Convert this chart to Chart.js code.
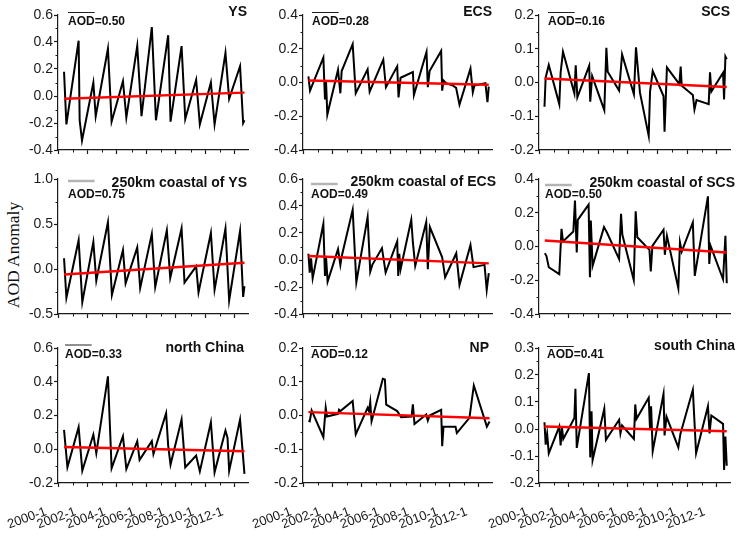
<!DOCTYPE html>
<html><head><meta charset="utf-8">
<script src="https://cdn.jsdelivr.net/npm/chart.js@4"></script>
<style>
html,body{margin:0;padding:0;background:#fff;}
#wrap{position:relative;width:740px;height:543px;overflow:hidden;background:#fff;}
#wrap canvas{position:absolute;}
#ytitle{position:absolute;left:13px;top:255px;font-family:'Liberation Serif','Times New Roman',serif;font-size:17.5px;color:#111;white-space:nowrap;transform:translate(-50%,-50%) rotate(-90deg);}
</style></head>
<body><div id="wrap"><div id="ytitle">AOD Anomaly</div></div>
<script>
// ---------- data ----------
const panelNames = ['YS','ECS','SCS','250km coastal of YS','250km coastal of ECS','250km coastal of SCS','north China','NP','south China'];
const aodMeans = [0.50,0.28,0.16,0.75,0.49,0.50,0.33,0.12,0.41];
// y-axis ticks: [min, max, step]
const yTicks = [[-0.4,0.6,0.2],[-0.4,0.4,0.2],[-0.2,0.2,0.1],[-0.5,1.0,0.5],[-0.4,0.6,0.2],[-0.4,0.4,0.2],[-0.2,0.6,0.2],[-0.2,0.2,0.1],[-0.2,0.3,0.1]];
const xTickYears = [2000,2002,2004,2006,2008,2010,2012];
const xTickLabels = ['2000-1','2002-1','2004-1','2006-1','2008-1','2010-1','2012-1'];

const ysDates = [2000.41,2000.57,2001.40,2001.47,2001.63,2002.40,2002.56,2003.39,2003.64,2004.41,2004.64,2005.38,2005.67,2006.37,2006.65,2007.48,2007.64,2008.39,2008.64,2009.38,2009.63,2010.38,2010.63,2011.37,2011.62,2012.36,2012.57,2012.66];
const ysValues = [0.18,-0.21,0.41,-0.18,-0.33,0.10,-0.15,0.35,-0.19,0.11,-0.16,0.37,-0.15,0.51,-0.18,0.45,-0.19,0.37,-0.17,0.12,-0.21,0.10,-0.21,0.32,-0.02,0.22,-0.20,-0.18];
const ysTrend = [-0.02,0.025];

const ecsDates = [2000.37,2000.48,2000.59,2001.39,2001.50,2001.57,2001.66,2002.39,2002.55,2002.64,2003.39,2003.60,2004.41,2004.55,2005.48,2005.66,2006.43,2006.52,2006.66,2007.50,2007.57,2008.43,2008.52,2008.64,2009.43,2009.50,2009.59,2009.77,2010.23,2010.45,2010.68,2011.43,2011.59,2011.70,2012.45,2012.59,2012.68];
const ecsValues = [0.036,-0.048,-0.024,0.147,-0.10,0.012,-0.19,0.076,-0.064,0.068,0.227,-0.064,0.078,-0.054,0.135,-0.028,0.096,-0.088,0.028,0.062,-0.074,0.181,-0.028,0.068,0.187,-0.048,0.012,-0.004,-0.018,-0.032,-0.131,0.082,-0.058,-0.018,-0.004,-0.117,-0.024];
const ecsTrend = [0.012,-0.014];

const scsDates = [2000.37,2000.45,2000.66,2001.37,2001.46,2001.62,2002.39,2002.48,2002.59,2003.39,2003.46,2003.59,2004.41,2004.55,2004.64,2005.41,2005.61,2006.41,2006.55,2006.82,2007.41,2007.50,2007.68,2008.41,2008.48,2008.64,2009.48,2009.57,2009.64,2010.39,2010.50,2010.64,2011.46,2011.55,2011.64,2012.43,2012.50,2012.59,2012.68];
const scsValues = [-0.072,0.015,0.052,-0.064,0.029,0.091,-0.032,0.051,-0.044,0.05,-0.057,0.019,-0.082,0.103,0.032,-0.024,0.083,-0.035,0.104,-0.030,-0.158,-0.027,0.034,-0.040,-0.146,0.045,-0.005,0.047,-0.010,-0.037,-0.080,-0.052,-0.064,0.030,-0.027,0.029,-0.050,0.077,0.069];
const scsTrend = [0.012,-0.013];

const cysDates = [2000.41,2000.57,2001.40,2001.65,2002.40,2002.60,2003.39,2003.66,2004.41,2004.59,2005.38,2005.58,2006.37,2006.60,2007.39,2007.62,2008.39,2008.59,2009.38,2009.54,2010.38,2010.63,2011.37,2011.62,2012.36,2012.57,2012.66];
const cysValues = [0.12,-0.32,0.32,-0.37,0.30,-0.13,0.52,-0.29,0.21,-0.16,0.24,-0.21,0.39,-0.20,0.43,-0.10,0.45,-0.15,0.03,-0.26,0.40,-0.23,0.45,-0.35,0.42,-0.31,-0.19];
const cysTrend = [-0.06,0.07];

const cecsDates = [2000.37,2000.46,2000.55,2000.66,2001.39,2001.50,2001.57,2001.68,2002.39,2002.55,2002.64,2003.39,2003.64,2004.41,2004.59,2004.73,2005.39,2005.64,2006.43,2006.50,2006.57,2006.66,2007.39,2007.50,2007.66,2008.41,2008.52,2008.66,2009.50,2009.70,2010.46,2010.68,2011.43,2011.64,2012.39,2012.54,2012.68];
const cecsValues = [0.046,-0.093,0.013,-0.135,0.268,-0.118,0.026,-0.16,0.08,-0.036,0.026,0.372,-0.165,0.318,-0.086,-0.036,0.088,-0.093,0.137,-0.118,0.046,-0.068,0.298,0.130,-0.044,0.281,-0.068,0.244,0.02,-0.128,0.05,-0.185,0.112,-0.053,-0.036,-0.222,-0.098];
const cecsTrend = [0.03,-0.025];

const cscsDates = [2000.39,2000.50,2000.66,2001.37,2001.52,2001.62,2002.32,2002.43,2002.55,2002.62,2003.35,2003.44,2003.50,2003.62,2004.39,2004.59,2005.41,2005.54,2005.63,2006.40,2006.53,2006.64,2007.46,2007.55,2007.66,2008.41,2008.50,2008.64,2009.41,2009.52,2009.64,2010.39,2010.52,2011.41,2011.50,2011.59,2012.43,2012.59,2012.68];
const cscsValues = [-0.04,-0.055,-0.123,-0.164,0.105,0.03,0.089,0.273,-0.036,0.158,0.248,-0.182,0.154,-0.115,0.115,0.083,-0.075,0.194,0.069,-0.198,0.208,0.055,-0.02,-0.148,0.004,0.099,-0.049,0.063,-0.247,0.024,-0.03,0.143,-0.174,0.297,-0.103,0.004,-0.194,0.063,-0.218];
const cscsTrend = [0.036,-0.035];

const ncDates = [2000.41,2000.64,2001.40,2001.65,2002.40,2002.60,2003.39,2003.64,2004.41,2004.64,2005.38,2005.54,2006.37,2006.48,2007.34,2007.48,2007.64,2008.39,2008.64,2009.38,2009.63,2010.38,2010.63,2011.37,2011.51,2011.62,2012.36,2012.66];
const ncValues = [0.115,-0.107,0.131,-0.127,0.087,-0.024,0.432,-0.113,0.077,-0.117,0.048,-0.063,0.048,-0.028,0.214,0.022,-0.091,0.176,-0.107,-0.038,-0.131,0.16,-0.137,0.111,0.067,-0.127,0.176,-0.146];
const ncTrend = [0.014,-0.012];

const npDates = [2000.37,2000.46,2000.59,2001.39,2001.55,2001.64,2002.39,2002.46,2002.55,2003.39,2003.60,2004.41,2004.50,2004.59,2004.68,2005.45,2005.59,2005.68,2006.43,2006.70,2007.41,2007.50,2007.61,2008.41,2008.52,2008.64,2009.43,2009.50,2009.59,2010.41,2010.50,2011.36,2011.66,2012.55,2012.73];
const npValues = [-0.015,-0.017,0.015,-0.064,0.023,-0.003,0.005,0.017,0.013,0.043,-0.056,0.023,0.013,0.040,-0.017,0.109,0.107,0.032,0.013,-0.005,-0.003,0.033,-0.025,0.003,-0.015,0.0,0.017,-0.091,-0.033,-0.033,-0.052,-0.007,0.089,-0.033,-0.018];
const npTrend = [0.010,-0.008];

const scDates = [2000.37,2000.45,2000.55,2000.66,2001.37,2001.46,2001.55,2001.64,2002.39,2002.46,2002.55,2003.37,2003.46,2003.55,2003.62,2004.41,2004.52,2005.41,2005.50,2005.61,2006.41,2006.50,2006.59,2007.41,2007.50,2007.57,2007.68,2008.41,2008.48,2008.61,2009.41,2009.55,2010.39,2010.61,2011.41,2011.52,2011.64,2012.43,2012.50,2012.59,2012.68];
const scValues = [0.025,-0.058,-0.018,-0.090,0.009,-0.061,0.004,-0.037,0.041,0.149,-0.07,0.207,-0.105,0.066,-0.115,0.075,-0.04,0.034,-0.016,0.013,-0.037,0.091,0.038,0.116,-0.003,0.084,-0.082,0.13,-0.024,0.046,-0.068,-0.018,0.145,-0.09,0.084,-0.016,0.05,0.019,-0.152,-0.028,-0.136];
const scTrend = [0.009,-0.008];

const seriesDates = [ysDates,ecsDates,scsDates,cysDates,cecsDates,cscsDates,ncDates,npDates,scDates];
const seriesValues = [ysValues,ecsValues,scsValues,cysValues,cecsValues,cscsValues,ncValues,npValues,scValues];
const seriesTrends = [ysTrend,ecsTrend,scsTrend,cysTrend,cecsTrend,cscsTrend,ncTrend,npTrend,scTrend];

// ---------- layout / style ----------
const COLS = [{cx:0,cw:252,L:58,R:248},{cx:252,cw:246,L:303,R:492},{cx:480,cw:260,L:539,R:730}];
const ROWS = [{cy:0,ch:165,T:15,B:150},{cy:165,ch:165,T:179,B:314},{cy:332,ch:211,T:348,B:483}];
const DECOR = {
  titleDx:[-1,0,0,-1,4,5,-4,-3,5],
  titleDy:[1,1,1,8,7,8,4,4,2],
  aodDx:[10,9,9,10,8,6,7,8,8],
  aodDy:[10,10,10,18.5,18.5,19,10,10,10],
  barDy:[-2.5,-2.5,-2.5,2,5,6,-3,-1.5,-1.5]
};
const SANS = '"Liberation Sans", Arial, sans-serif';
const INK = '#1a1a1a';
Chart.defaults.font.family = SANS;
Chart.defaults.font.size = 14;
Chart.defaults.color = INK;

const panelDecor = {
  id: 'panelDecor',
  afterDraw(chart, args, o) {
    const {ctx, chartArea: a} = chart;
    const xs = chart.scales.x, ys = chart.scales.y;
    ctx.save();
    ctx.strokeStyle = INK; ctx.lineWidth = 1;
    // minor y ticks
    const n = Math.round((o.yMax - o.yMin) / o.yStep);
    for (let k = 0; k < n; k++) {
      const py = Math.round(ys.getPixelForValue(o.yMin + (k + 0.5) * o.yStep)) + 0.5;
      ctx.beginPath(); ctx.moveTo(a.left, py); ctx.lineTo(a.left - 2.5, py); ctx.stroke();
    }
    // minor x ticks (odd years)
    for (let yr = 2001; yr < xs.max; yr += 2) {
      const px = Math.round(xs.getPixelForValue(yr)) + 0.5;
      ctx.beginPath(); ctx.moveTo(px, a.bottom); ctx.lineTo(px, a.bottom + 2.5); ctx.stroke();
    }
    // panel title
    ctx.fillStyle = '#111';
    ctx.font = 'bold 14px ' + SANS;
    ctx.textAlign = 'right'; ctx.textBaseline = 'alphabetic';
    ctx.fillText(o.title, a.right + o.titleDx, a.top + o.titleDy);
    // mean AOD
    ctx.font = 'bold 12px ' + SANS;
    ctx.textAlign = 'left';
    const tx = a.left + o.aodDx;
    ctx.fillText('AOD=' + o.mean.toFixed(2), tx, a.top + o.aodDy);
    const w = ctx.measureText('AOD').width;
    ctx.strokeStyle = o.barColor; ctx.lineWidth = o.barWidth;
    ctx.beginPath(); ctx.moveTo(tx, a.top + o.barDy); ctx.lineTo(tx + w, a.top + o.barDy); ctx.stroke();
    ctx.restore();
  }
};

const wrap = document.getElementById('wrap');
panelNames.forEach((name, i) => {
  const col = COLS[i % 3], row = ROWS[Math.floor(i / 3)];
  const isBottom = Math.floor(i / 3) === 2;
  const isMid = Math.floor(i / 3) === 1;
  const cv = document.createElement('canvas');
  cv.width = col.cw; cv.height = row.ch;
  cv.style.left = col.cx + 'px'; cv.style.top = row.cy + 'px';
  wrap.appendChild(cv);
  const dates = seriesDates[i], vals = seriesValues[i], tr = seriesTrends[i];
  const [yMin, yMax, yStep] = yTicks[i];
  new Chart(cv, {
    type: 'line',
    data: { datasets: [
      { data: dates.map((d, k) => ({x: d, y: vals[k]})), borderColor: '#000', borderWidth: 2, pointRadius: 0, tension: 0, fill: false, order: 2 },
      { data: [{x: dates[0], y: tr[0]}, {x: dates[dates.length - 1], y: tr[1]}], borderColor: '#ff0000', borderWidth: 2.5, pointRadius: 0, fill: false, order: 1 }
    ]},
    options: {
      responsive: false, animation: false, events: [],
      layout: { padding: { left: 0, top: row.T - row.cy, right: col.cx + col.cw - col.R, bottom: 0 } },
      plugins: {
        legend: {display: false}, tooltip: {enabled: false},
        panelDecor: {
          title: name, mean: aodMeans[i], yMin, yMax, yStep,
          titleDx: DECOR.titleDx[i], titleDy: DECOR.titleDy[i],
          aodDx: DECOR.aodDx[i], aodDy: DECOR.aodDy[i], barDy: DECOR.barDy[i],
          barColor: isMid ? '#b4b4b4' : '#222', barWidth: isMid ? 2.5 : 1
        }
      },
      scales: {
        x: {
          type: 'linear', min: 2000, max: 2012.9,
          afterFit: s => { s.height = row.cy + row.ch - row.B; s.paddingLeft = 0; s.paddingRight = 0; },
          border: {display: true, color: INK, width: 1.2},
          grid: {drawOnChartArea: false, drawTicks: true, tickLength: 4, color: INK, tickWidth: 1.2},
          ticks: {
            display: isBottom, stepSize: 2, includeBounds: false, autoSkip: false,
            minRotation: 20, maxRotation: 20, padding: 17, labelOffset: -12,
            font: {size: 13}, color: INK,
            callback: v => { const k = xTickYears.indexOf(Math.round(v)); return k >= 0 ? xTickLabels[k] : ''; }
          }
        },
        y: {
          min: yMin, max: yMax,
          afterFit: s => { s.width = col.L - col.cx; s.paddingTop = 0; s.paddingBottom = 0; },
          border: {display: true, color: INK, width: 1.2},
          grid: {drawOnChartArea: false, drawTicks: true, tickLength: 4, color: INK, tickWidth: 1.2},
          ticks: {
            stepSize: yStep, padding: 1, font: {size: 14}, color: INK,
            callback: v => (Math.abs(v) < 1e-9 ? 0 : v).toFixed(1)
          }
        }
      }
    },
    plugins: [panelDecor]
  });
});
</script>
</body></html>
